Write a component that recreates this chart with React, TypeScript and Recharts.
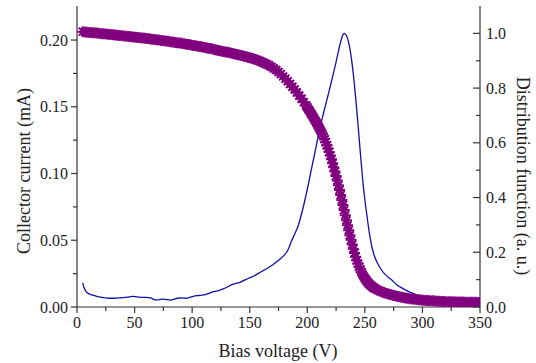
import React from 'react';
import { ComposedChart, Scatter, Line, XAxis, YAxis } from 'recharts';

// Collector current (mA) vs bias voltage (V): read every 2 V, every 1 V on the steep part
const biasVoltage = [
  5, 7, 9, 11, 13, 15, 17, 19, 21, 23, 25, 27, 29, 31, 33, 35, 37, 39, 41, 43,
  45, 47, 49, 51, 53, 55, 57, 59, 61, 63, 65, 67, 69, 71, 73, 75, 77, 79, 81, 83,
  85, 87, 89, 91, 93, 95, 97, 99, 101, 103, 105, 107, 109, 111, 113, 115, 117, 119, 121, 123,
  125, 127, 129, 131, 133, 135, 137, 139, 141, 143, 145, 147, 149, 151, 153, 155, 157, 159, 161, 163,
  165, 167, 169, 171, 173, 175, 177, 179, 181, 183, 185, 187, 189, 191, 193, 195, 197, 199,
  200, 201, 202, 203, 204, 205, 206, 207, 208, 209, 210, 211, 212, 213, 214, 215, 216, 217, 218, 219,
  220, 221, 222, 223, 224, 225, 226, 227, 228, 229, 230, 231, 232, 233, 234, 235, 236, 237, 238, 239,
  240, 241, 242, 243, 244, 245, 246, 247, 248, 249, 250, 251, 252, 253, 254, 255, 256, 257, 258,
  259, 261, 263, 265, 267, 269, 271, 273, 275, 277, 279, 281, 283, 285, 287, 289, 291, 293, 295, 297,
  299, 301, 303, 305, 307, 309, 311, 313, 315, 317, 319, 321, 323, 325, 327, 329, 331, 333, 335, 337,
  339, 341, 343, 345, 347, 349,
];
const collectorCurrent = [
  0.2063, 0.2061, 0.2059, 0.2057, 0.2055, 0.2054, 0.2052, 0.205, 0.2048, 0.2047,
  0.2045, 0.2043, 0.2041, 0.204, 0.2038, 0.2036, 0.2034, 0.2032, 0.2031, 0.2029,
  0.2027, 0.2025, 0.2023, 0.2021, 0.2019, 0.2017, 0.2015, 0.2013, 0.2011, 0.2009,
  0.2006, 0.2004, 0.2002, 0.2, 0.1997, 0.1995, 0.1993, 0.199, 0.1988, 0.1985,
  0.1982, 0.198, 0.1977, 0.1975, 0.1972, 0.1969, 0.1966, 0.1963, 0.196, 0.1957,
  0.1954, 0.1951, 0.1948, 0.1944, 0.1941, 0.1937, 0.1934, 0.193, 0.1926, 0.1922,
  0.1918, 0.1914, 0.191, 0.1908, 0.1904, 0.19, 0.1896, 0.1892, 0.1888, 0.1884,
  0.1879, 0.1875, 0.187, 0.1865, 0.186, 0.1854, 0.1848, 0.1841, 0.1834, 0.1826,
  0.1818, 0.1809, 0.1799, 0.1787, 0.1775, 0.1761, 0.1745, 0.1728, 0.171, 0.1691,
  0.1671, 0.165, 0.1629, 0.1607, 0.1584, 0.156, 0.1535, 0.1509,
  0.1496, 0.1482, 0.1468, 0.1454, 0.144, 0.1425, 0.141, 0.1395, 0.138, 0.1364,
  0.1348, 0.1332, 0.1315, 0.1298, 0.1278, 0.1258, 0.1235, 0.1212, 0.1187, 0.1162,
  0.1135, 0.1107, 0.1077, 0.1047, 0.1015, 0.0982, 0.0947, 0.0912, 0.0876, 0.0839,
  0.0802, 0.0764, 0.0726, 0.0688, 0.065, 0.0612, 0.0575, 0.0538, 0.0503, 0.0468,
  0.0436, 0.0404, 0.0376, 0.0348, 0.0325, 0.0302, 0.0282, 0.0262, 0.0245, 0.0229,
  0.0215, 0.0202, 0.0191, 0.018, 0.0171, 0.0162, 0.0155, 0.0148, 0.0142,
  0.0137, 0.0128, 0.012, 0.0113, 0.0107, 0.0101, 0.0096, 0.0091, 0.0086, 0.0082,
  0.0078, 0.0074, 0.0071, 0.0068, 0.0065, 0.0062, 0.006, 0.0058, 0.0056, 0.0054,
  0.0052, 0.0051, 0.0049, 0.0048, 0.0047, 0.0046, 0.0045, 0.0044, 0.0043, 0.0042,
  0.0041, 0.004, 0.004, 0.0039, 0.0039, 0.0038, 0.0038, 0.0037, 0.0037, 0.0036,
  0.0036, 0.0036, 0.0035, 0.0035, 0.0035, 0.0034,
];

// Distribution function (a. u.)
const distVoltage = [
  5, 6, 8, 10, 12, 14, 18, 23, 28, 32, 36, 40, 44, 48, 51, 55, 60, 64, 68, 71,
  74, 77, 81, 84, 87, 91, 95, 98, 101, 106, 110, 114, 118, 122, 127, 131, 134, 138, 142, 146,
  149, 153, 156, 160, 164, 168, 172, 176, 179, 182, 184, 186, 189, 192, 195, 198, 201, 204, 207, 210,
  213, 216, 219, 222, 225, 228, 230, 232, 234, 236, 238, 240, 242, 244, 246, 248, 250, 252, 254, 256,
  258, 261, 264, 267, 270, 274, 278, 282, 286, 290, 295, 300, 304, 308, 312, 316, 321, 325, 329, 333,
  338, 342, 346, 350,
];
const distValue = [
  0.088, 0.072, 0.056, 0.049, 0.045, 0.043, 0.038, 0.034, 0.032, 0.032, 0.033, 0.034, 0.036, 0.039, 0.038, 0.035, 0.035, 0.033, 0.026, 0.026,
  0.029, 0.028, 0.025, 0.028, 0.032, 0.033, 0.032, 0.035, 0.039, 0.042, 0.044, 0.049, 0.055, 0.059, 0.066, 0.074, 0.081, 0.086, 0.091, 0.099,
  0.105, 0.112, 0.119, 0.129, 0.138, 0.149, 0.161, 0.174, 0.185, 0.2, 0.216, 0.238, 0.266, 0.296, 0.34, 0.392, 0.45, 0.512, 0.572, 0.635,
  0.69, 0.74, 0.79, 0.842, 0.895, 0.952, 0.985, 1.0, 0.992, 0.965, 0.918, 0.85, 0.765, 0.67, 0.568, 0.47, 0.392, 0.328, 0.268, 0.222,
  0.19, 0.16, 0.138, 0.122, 0.11, 0.096, 0.08, 0.07, 0.061, 0.053, 0.043, 0.032, 0.025, 0.02, 0.018, 0.015, 0.012, 0.016, 0.02, 0.019,
  0.016, 0.015, 0.014, 0.012,
];

const xTicks = [0, 25, 50, 75, 100, 125, 150, 175, 200, 225, 250, 275, 300, 325, 350];
const leftTicks = [0, 0.025, 0.05, 0.075, 0.1, 0.125, 0.15, 0.175, 0.2];
const rightTicks = [0, 0.1, 0.2, 0.3, 0.4, 0.5, 0.6, 0.7, 0.8, 0.9, 1.0];

const currentData = biasVoltage.map((v, i) => ({ v, current: collectorCurrent[i] }));
const distData = distVoltage.map((v, i) => ({ v, dist: distValue[i] }));

const FONT = '"Liberation Serif", "Times New Roman", serif';
const AXIS = '#333';
const PURPLE = '#800080';
const BLUE = '#1111aa';

// asterisk-like marker (plus + cross)
const Star = (props: any) => {
  const { cx, cy } = props;
  if (cx == null || cy == null || Number.isNaN(cy)) return null;
  const r = 5.5;
  const k = 4;
  return (
    <path
      d={`M${cx - r},${cy}h${2 * r}M${cx},${cy - r}v${2 * r}M${cx - k},${cy - k}l${2 * k},${2 * k}M${cx - k},${cy + k}l${2 * k},${-2 * k}`}
      stroke={PURPLE}
      strokeWidth={2}
      fill="none"
    />
  );
};

const BottomTick = (props: any) => {
  const { x, y, payload } = props;
  const major = payload.value % 50 === 0;
  return (
    <g>
      <line x1={x} y1={y} x2={x} y2={y + (major ? 6 : 4)} stroke={AXIS} strokeWidth={1.2} />
      {major && (
        <text x={x} y={y + 21} textAnchor="middle" fontSize={16} fontFamily={FONT} fill="#222">
          {payload.value}
        </text>
      )}
    </g>
  );
};

const TopTick = (props: any) => {
  const { x, y } = props;
  return <line x1={x} y1={y} x2={x} y2={y + 6} stroke={AXIS} strokeWidth={1.2} />;
};

const LeftTick = (props: any) => {
  const { x, y, payload } = props;
  const major = Math.round(payload.value * 1000) % 50 === 0;
  return (
    <g>
      <line x1={x - (major ? 6 : 4)} y1={y} x2={x} y2={y} stroke={AXIS} strokeWidth={1.2} />
      {major && (
        <text x={x - 9} y={y + 5.5} textAnchor="end" fontSize={16} fontFamily={FONT} fill="#222">
          {payload.value.toFixed(2)}
        </text>
      )}
    </g>
  );
};

const RightTick = (props: any) => {
  const { x, y, payload } = props;
  const major = Math.round(payload.value * 10) % 2 === 0;
  return (
    <g>
      <line x1={x - (major ? 7 : 4)} y1={y} x2={x} y2={y} stroke={AXIS} strokeWidth={1.2} />
      {major && (
        <text x={x + 6} y={y + 5.5} textAnchor="start" fontSize={16} fontFamily={FONT} fill="#222">
          {payload.value.toFixed(1)}
        </text>
      )}
    </g>
  );
};

const App: React.FC = () => {
  return (
    <div style={{ position: 'absolute', left: 0, top: 0, width: 536, height: 363, background: '#fff' }}>
      <ComposedChart width={536} height={363} margin={{ top: 6, right: 0, bottom: 0, left: 0 }}>
        <XAxis
          dataKey="v"
          type="number"
          domain={[0, 350]}
          allowDataOverflow
          ticks={xTicks}
          interval={0}
          height={56}
          tickSize={0}
          tickMargin={0}
          tickLine={false}
          tick={<BottomTick />}
          stroke={AXIS}
          strokeWidth={1.2}
        />
        <XAxis
          xAxisId="top"
          orientation="top"
          type="number"
          domain={[0, 350]}
          allowDataOverflow
          ticks={xTicks}
          interval={0}
          height={0}
          tickSize={0}
          tickMargin={0}
          tickLine={false}
          tick={<TopTick />}
          stroke={AXIS}
          strokeWidth={1.2}
        />
        <YAxis
          yAxisId="left"
          orientation="left"
          type="number"
          domain={[0, 0.2255]}
          allowDataOverflow
          ticks={leftTicks}
          interval={0}
          width={77}
          tickSize={0}
          tickMargin={0}
          tickLine={false}
          tick={<LeftTick />}
          stroke={AXIS}
          strokeWidth={1.2}
        />
        <YAxis
          yAxisId="right"
          orientation="right"
          type="number"
          domain={[0, 1.1]}
          allowDataOverflow
          ticks={rightTicks}
          interval={0}
          width={56}
          tickSize={0}
          tickMargin={0}
          tickLine={false}
          tick={<RightTick />}
          stroke={AXIS}
          strokeWidth={1.2}
        />
        <Scatter
          yAxisId="left"
          data={currentData}
          dataKey="current"
          shape={<Star />}
          isAnimationActive={false}
        />
        <Line
          yAxisId="right"
          data={distData}
          dataKey="dist"
          type="monotone"
          stroke={BLUE}
          strokeWidth={1.3}
          dot={false}
          activeDot={false}
          isAnimationActive={false}
        />
      </ComposedChart>
      <svg width={536} height={363} style={{ position: 'absolute', left: 0, top: 0, pointerEvents: 'none' }}>
        <text
          x={0}
          y={0}
          transform="translate(30,171) rotate(-90)"
          textAnchor="middle"
          fontSize={18}
          fontFamily={FONT}
          fill="#222"
        >
          Collector current (mA)
        </text>
        <text
          x={0}
          y={0}
          transform="translate(517,176) rotate(90)"
          textAnchor="middle"
          fontSize={18}
          fontFamily={FONT}
          fill="#222"
        >
          Distribution function (a. u.)
        </text>
        <text x={278} y={357} textAnchor="middle" fontSize={18} fontFamily={FONT} fill="#222">
          Bias voltage (V)
        </text>
      </svg>
    </div>
  );
};

export default App;
